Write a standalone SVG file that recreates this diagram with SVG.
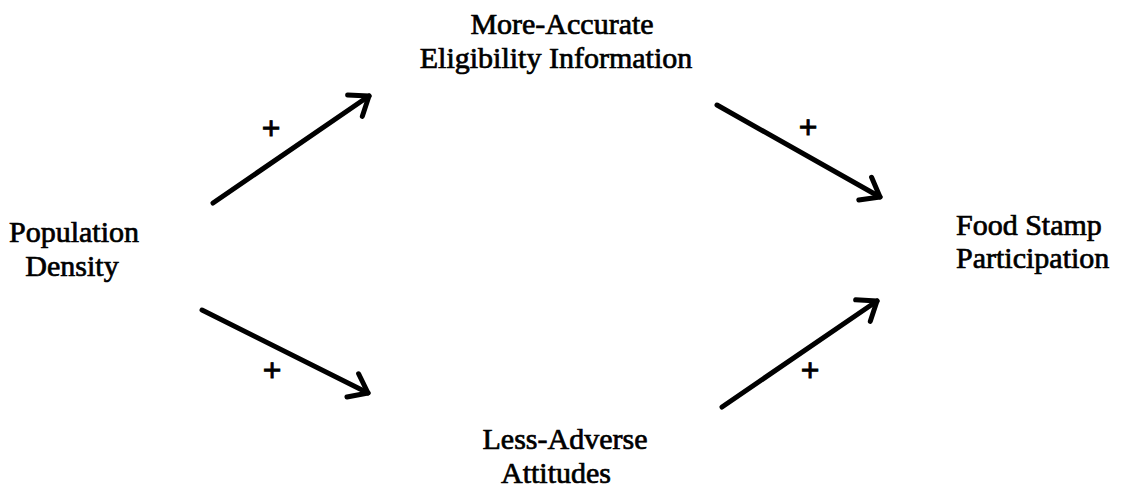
<svg xmlns="http://www.w3.org/2000/svg" width="1121" height="491" viewBox="0 0 1121 491">
  <style>
    .lbl { font-family: "Liberation Serif", "Times New Roman", serif; font-size: 30px; fill: #000; stroke: #000; stroke-width: 0.7; }
    .plus { font-family: "Liberation Sans", Arial, sans-serif; font-size: 32px; fill: #000; stroke: #000; stroke-width: 0.8; text-anchor: middle; }
    .edge { fill: none; stroke: #000; stroke-width: 5; stroke-linecap: round; stroke-linejoin: round; marker-end: url(#vhead); }
  </style>
  <defs>
    <marker id="vhead" markerUnits="userSpaceOnUse" viewBox="-20 -16 24 32" refX="0" refY="0" markerWidth="24" markerHeight="32" orient="auto">
      <path d="M-17,-13 L0,0 L-17,13" fill="none" stroke="#000" stroke-width="5" stroke-linecap="round" stroke-linejoin="round"/>
    </marker>
  </defs>
  <rect width="1121" height="491" fill="#fff"/>

  <g id="node-info">
    <text class="lbl" x="562" y="34" text-anchor="middle">More-Accurate</text>
    <text class="lbl" x="556" y="68" text-anchor="middle">Eligibility Information</text>
  </g>
  <g id="node-density">
    <text class="lbl" x="74" y="242" text-anchor="middle">Population</text>
    <text class="lbl" x="72" y="276" text-anchor="middle">Density</text>
  </g>
  <g id="node-participation">
    <text class="lbl" x="956" y="235">Food Stamp</text>
    <text class="lbl" x="956" y="268">Participation</text>
  </g>
  <g id="node-attitudes">
    <text class="lbl" x="565" y="449" text-anchor="middle">Less-Adverse</text>
    <text class="lbl" x="556" y="483" text-anchor="middle">Attitudes</text>
  </g>

  <g id="connectors">
    <path class="edge" d="M213,203 L369,96"/>
    <path class="edge" d="M717,105 L880,197"/>
    <path class="edge" d="M202,310 L368,393"/>
    <path class="edge" d="M722,407 L877,301"/>
    <text class="plus" x="271" y="139">+</text>
    <text class="plus" x="808" y="138">+</text>
    <text class="plus" x="272" y="381">+</text>
    <text class="plus" x="810" y="381">+</text>
  </g>
</svg>
